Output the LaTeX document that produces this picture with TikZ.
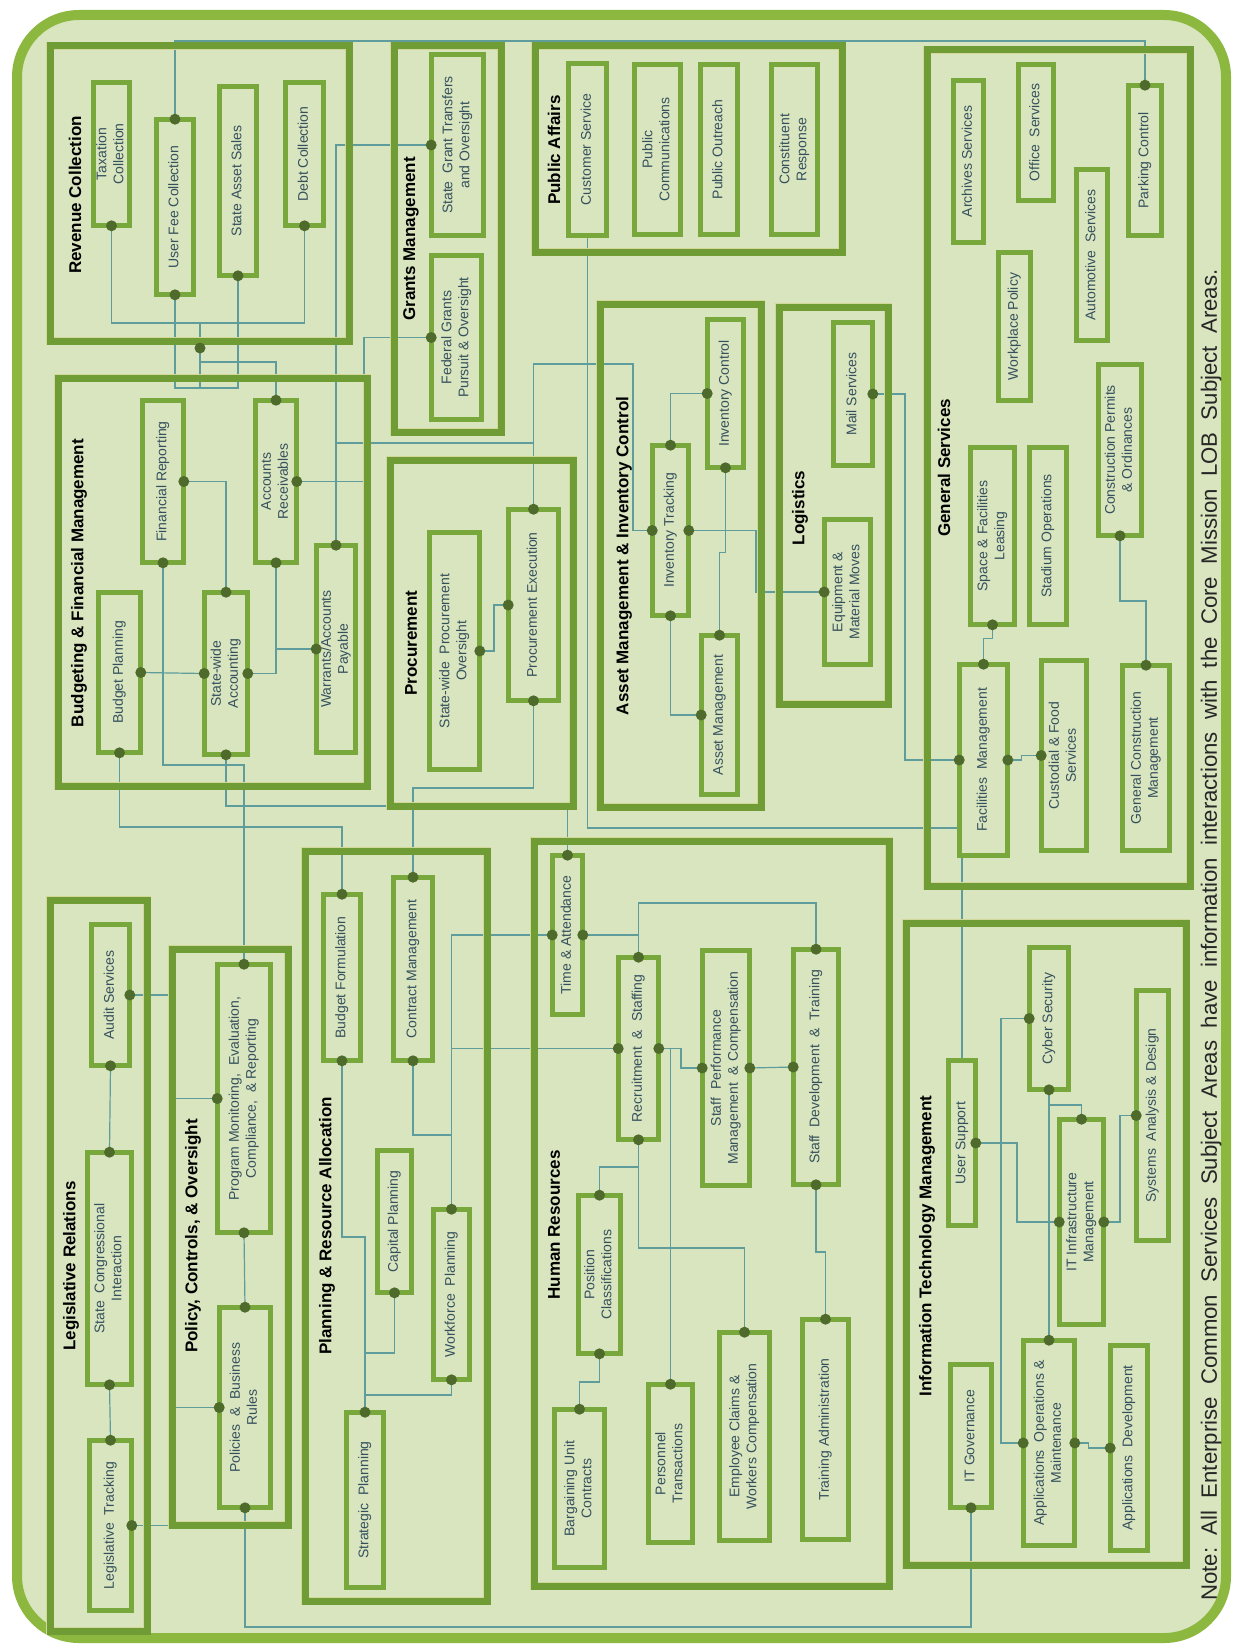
\documentclass[tikz,border=0pt]{standalone}
\usepackage{fontspec}
\setmainfont{Liberation Sans}
\usepackage{graphicx}
\definecolor{bgc}{HTML}{D9E5BF}
\definecolor{framec}{HTML}{8DB83F}
\definecolor{grpc}{HTML}{6F9C34}
\definecolor{boxc}{HTML}{78A83B}
\definecolor{edgec}{HTML}{D2D79A}
\definecolor{linec}{HTML}{5F9C9C}
\definecolor{dotc}{HTML}{4E6B2B}
\definecolor{txtc}{HTML}{34505C}
\pgfdeclarelayer{framelayer}
\pgfdeclarelayer{connlayer}
\pgfdeclarelayer{grplayer}
\pgfsetlayers{framelayer,connlayer,grplayer,main}
\tikzset{
  grp/.style={draw=edgec, line width=0.7pt, double=grpc, double distance=7pt},
  bx/.style={draw=edgec, line width=0.6pt, double=boxc, double distance=4.6pt, fill=bgc, inner sep=0pt, rectangle,
    font=\fontsize{14}{17}\selectfont, text=txtc},
  ttl/.style={rotate=90, font=\fontsize{17}{20}\selectfont\bfseries, text=black, inner sep=0pt},
  conn/.style={draw=linec, line width=1.2pt},
}
\newcommand\bx[6]{\node[bx, minimum width={#3-#2-5}, minimum height={#5-#4-5}] (#1) at ({(#2+#3)/2},{(#4+#5)/2}) {\rotatebox{90}{\begin{tabular}{@{}c@{}}#6\end{tabular}}};}
\begin{document}
\begin{tikzpicture}[x=1pt,y=-1pt]
\useasboundingbox (0,0) rectangle (1237,1648);
\begin{pgfonlayer}{framelayer}
\fill[white] (0,0) rectangle (1237,1648);
\draw[framec, line width=10pt, fill=bgc, rounded corners=62pt] (17,15) rectangle (1226,1638);
\end{pgfonlayer}

% ---------- groups
\begin{pgfonlayer}{grplayer}
\draw[grp] (50,46) rectangle (349,341);
\draw[grp] (394,46) rectangle (501,432);
\draw[grp] (535,46) rectangle (842,252);
\draw[grp] (927,50) rectangle (1190,886);
\draw[grp] (58,378) rectangle (367,786);
\draw[grp] (390,460) rectangle (573,806);
\draw[grp] (600,304) rectangle (761,807);
\draw[grp] (779,307) rectangle (888,704);
\draw[grp] (50,900) rectangle (147,1631);
\draw[grp] (172,949) rectangle (288,1525);
\draw[grp] (305,851) rectangle (487,1601);
\draw[grp] (534,841) rectangle (889,1586);
\draw[grp] (906,923) rectangle (1186,1565);
\end{pgfonlayer}

% ---------- titles
\node[ttl] (t-rev) at (75,195) {Revenue Collection};
\node[ttl] (t-gra) at (411,239) {Grants Management};
\node[ttl] (t-pub) at (554,150) {Public Affairs};
\node[ttl] (t-gs) at (944,468) {General Services};
\node[ttl] (t-bfm) at (79,583) {Budgeting \& Financial Management};
\node[ttl] (t-pro) at (411,643) {Procurement};
\node[ttl] (t-ami) at (624,556) {Asset Management \& Inventory Control};
\node[ttl] (t-log) at (800,508) {Logistics};
\node[ttl] (t-leg) at (71,1266) {Legislative Relations};
\node[ttl] (t-pco) at (193,1236) {Policy, Controls, \& Oversight};
\node[ttl] (t-pra) at (327,1226) {Planning \& Resource Allocation};
\node[ttl] (t-hr) at (554,1225) {Human Resources};
\node[ttl] (t-itm) at (927,1246) {Information Technology Management};
\node[rotate=90, font=\fontsize{22.2}{26}\selectfont, text=black!85, inner sep=0pt] (note) at (1211,935)
  {Note:\ \ All\ \ Enterprise\ \ Common\ \ Services\ \ Subject\ \ Areas\ \ have\ \ information\ \ interactions\ \ with\ \ the\ \ Core\ \ Mission\ \ LOB\ \ Subject\ \ Areas.};

% ---------- boxes
\bx{tax}{91}{132}{80}{228}{Taxation\\Collection}
\bx{ufc}{154}{196}{117}{297}{User Fee Collection}
\bx{sas}{217}{259}{84}{278}{State Asset Sales}
\bx{debt}{283}{326}{80}{228}{Debt Collection}
\bx{sgt}{429}{486}{52}{238}{State\ \ Grant Transfers\\and Oversight}
\bx{fg}{429}{484}{253}{422}{Federal Grants\\Pursuit \& Oversight}
\bx{cs}{566}{609}{61}{238}{Customer Service}
\bx{pc}{632}{683}{62}{237}{Public\\Communications}
\bx{po}{698}{740}{62}{237}{Public Outreach}
\bx{cr}{769}{820}{62}{237}{Constituent\\Response}
\bx{arch}{951}{986}{78}{245}{Archives Services}
\bx{off}{1016}{1056}{62}{203}{Office\ \ Services}
\bx{park}{1126}{1164}{83}{238}{Parking Control}
\bx{wp}{996}{1033}{250}{403}{Workplace Policy}
\bx{auto}{1074}{1110}{167}{343}{Automotive\ \ Services}
\bx{cpo}{1096}{1144}{362}{538}{Construction Permits\\\& Ordinances}
\bx{sfl}{968}{1017}{445}{627}{Space \& Facilities\\Leasing}
\bx{stad}{1027}{1069}{445}{627}{Stadium Operations}
\bx{fm}{957}{1010}{662}{858}{Facilities\ \ Management}
\bx{cfs}{1039}{1089}{658}{853}{Custodial \& Food\\Services}
\bx{gcm}{1120}{1172}{663}{853}{General Construction\\Management}
\bx{ms}{831}{875}{320}{468}{Mail Services}
\bx{emm}{822}{873}{517}{667}{Equipment \&\\Material Moves}
\bx{invt}{650}{691}{443}{618}{Inventory Tracking}
\bx{invc}{705}{746}{317}{470}{Inventory Control}
\bx{am}{699}{740}{633}{797}{Asset Management}
\bx{fr}{140}{186}{398}{565}{Financial Reporting}
\bx{ar}{253}{299}{398}{565}{Accounts\\Receivables}
\bx{bp}{96}{143}{590}{755}{Budget Planning}
\bx{swa}{202}{250}{590}{757}{State-wide\\Accounting}
\bx{wap}{314}{358}{543}{755}{Warrants/Accounts\\Payable}
\bx{spo}{427}{482}{530}{772}{State-wide\ \ Procurement\\Oversight}
\bx{pe}{506}{561}{507}{703}{Procurement Execution}
\bx{aud}{89}{132}{922}{1068}{Audit Services}
\bx{sci}{85}{134}{1150}{1387}{State\ \ Congressional\\Interaction}
\bx{lt}{87}{134}{1438}{1613}{Legislative\ \ Tracking}
\bx{pm}{215}{273}{962}{1235}{Program Monitoring,\ \ Evaluation,\\Compliance,\ \ \& Reporting}
\bx{pbr}{217}{273}{1305}{1510}{Policies\ \ \&\ \ Business\\Rules}
\bx{bf}{321}{363}{892}{1063}{Budget Formulation}
\bx{cm}{391}{435}{875}{1063}{Contract Management}
\bx{cp}{375}{414}{1148}{1295}{Capital Planning}
\bx{wfp}{431}{472}{1207}{1382}{Workforce\ \ Planning}
\bx{sp}{344}{386}{1410}{1590}{Strategic\ \ Planning}
\bx{ta}{550}{585}{853}{1017}{Time \& Attendance}
\bx{rs}{616}{661}{955}{1142}{Recruitment\ \ \&\ \ Staffing}
\bx{spmc}{700}{752}{948}{1188}{Staff\ \ Performance\\Management\ \ \& Compensation}
\bx{sdt}{791}{841}{947}{1187}{Staff\ \ Development\ \ \&\ \ Training}
\bx{pcl}{576}{623}{1193}{1356}{Position\\Classifications}
\bx{buc}{552}{607}{1407}{1570}{Bargaining Unit\\Contracts}
\bx{ptr}{646}{695}{1382}{1545}{Personnel\\Transactions}
\bx{ecwc}{717}{772}{1330}{1543}{Employee Claims \&\\Workers Compensation}
\bx{tad}{800}{851}{1317}{1542}{Training Administration}
\bx{us}{946}{978}{1058}{1228}{User Support}
\bx{cyb}{1027}{1071}{945}{1092}{Cyber Security}
\bx{sad}{1134}{1171}{988}{1243}{Systems\ \ Analysis \& Design}
\bx{itim}{1057}{1106}{1117}{1327}{IT Infrastructure\\Management}
\bx{itg}{948}{994}{1362}{1510}{IT Governance}
\bx{aom}{1021}{1077}{1338}{1548}{Applications\ \ Operations \&\\Maintenance}
\bx{ad}{1108}{1150}{1343}{1553}{Applications\ \ Development}

% ---------- connectors
\coordinate (revj) at (200,348);
\begin{pgfonlayer}{connlayer}
\draw[conn] (ufc.north) |- (1145,41) -- (park.north);
\draw[conn] (tax.south) |- (200,323) -| (debt.south);
\draw[conn] (200,323) -- (200,388);
\draw[conn] (ufc.south) |- (200,388) -| (sas.south);
\draw[conn] (200,362) -| (ar.north);
\draw[conn] (sgt.west) -| (wap.north);
\draw[conn] (336,443) -- (533.5,443);
\draw[conn] (pe.north) |- (633,364) |- (invt.west);
\draw[conn] (fg.west) -| (364,481.5) -- (ar.east);
\draw[conn] (fr.east) -| (swa.north);
\draw[conn] (bp.east) -- (swa.west);
\draw[conn] (swa.east) -| (276,649);
\draw[conn] (ar.south) |- (wap.west);
\draw[conn] (fr.south) |- (244,765) -- (pm.north);
\draw[conn] (swa.south) |- (567.5,806) -- (ta.north);
\draw[conn] (bp.south) |- (342,827) -- (bf.north);
\draw[conn] (pe.south) |- (413,788) -- (cm.north);
\draw[conn] (spo.east) -| (494,605) -- (pe.west);
\draw[conn] (cs.south) |- (959,828);
\draw[conn] (us.north) -- (us.north |- fm.south);
\draw[conn] (ms.east) -| (905,760) -- (fm.west);
\draw[conn] (sfl.south) -- ++(0,14) -| (fm.north);
\draw[conn] (fm.east) -- ++(14,0) |- (cfs.west);
\draw[conn] (cpo.south) |- (1146,601) -- (gcm.north);
\draw[conn] (invt.north) |- (invc.west);
\draw[conn] (invc.south) -- ++(0,85) -| (am.north);
\draw[conn] (invt.south) |- (am.west);
\draw[conn] (invt.east) -| (756,592) -- (emm.west);
\draw[conn] (aud.south) -- (sci.north);
\draw[conn] (sci.south) -- (lt.north);
\draw[conn] (aud.east) -| (174,1098.5) -- (pm.west);
\draw[conn] (lt.east) -| (174,1407.5) -- (pbr.west);
\draw[conn] (pm.south) -- (pbr.north);
\draw[conn] (pbr.south) |- (971,1627) -- (itg.south);
\draw[conn] (bf.south) |- (365,1237) -- (sp.north);
\draw[conn] (cp.south) |- (365,1353);
\draw[conn] (wfp.south) |- (365,1395);
\draw[conn] (cm.south) |- (451.5,1135) -- (wfp.north);
\draw[conn] (wfp.north) -- (451.5,935) -- (ta.west);
\draw[conn] (451.5,1048.5) -- (rs.west);
\draw[conn] (ta.east) -- (638.5,935);
\draw[conn] (rs.north) |- (816,903) -- (sdt.north);
\draw[conn] (rs.east) -| (681,1068) -- (spmc.west);
\draw[conn] (ptr.north) -- (ptr.north |- rs.east);
\draw[conn] (spmc.east) -- (sdt.west);
\draw[conn] (rs.south) |- (599.5,1167) -- (pcl.north);
\draw[conn] (rs.south) |- (744.5,1248) -- (ecwc.north);
\draw[conn] (pcl.south) |- (579.5,1382) -- (buc.north);
\draw[conn] (sdt.south) |- (825.5,1252) -- (tad.north);
\draw[conn] (cyb.west) -| (1001,1443) -- (aom.west);
\draw[conn] (us.east) -| (1017,1222) -- (itim.west);
\draw[conn] (cyb.south) -- (aom.north);
\draw[conn] (1049,1105) -| (itim.north);
\draw[conn] (itim.east) -| (1120,1115.5) -- (sad.west);
\draw[conn] (aom.east) -- ++(14,0) |- (ad.west);
\end{pgfonlayer}

% ---------- dots
\foreach \p in {ufc.north, park.north, tax.south, debt.south, ufc.south, sas.south, revj, ar.north,
  sgt.west, wap.north, fg.west, ar.east, pe.north, invt.west, fr.east, swa.north, bp.east, swa.west,
  swa.east, wap.west, ar.south, fr.south, pm.north, swa.south, ta.north, bp.south, bf.north,
  pe.south, cm.north, spo.east, pe.west, ms.east, fm.west, sfl.south, fm.north, fm.east, cfs.west,
  cpo.south, gcm.north, invt.north, invc.west, invc.south, am.north, invt.south, am.west,
  invt.east, emm.west, aud.south, sci.north, sci.south, lt.north, aud.east, pm.west, lt.east,
  pbr.west, pm.south, pbr.north, pbr.south, itg.south, bf.south, sp.north, cp.south, wfp.south,
  cm.south, wfp.north, ta.west, rs.west, ta.east, rs.north, sdt.north, rs.east, spmc.west,
  ptr.north, spmc.east, sdt.west, rs.south, pcl.north, ecwc.north, pcl.south, buc.north,
  sdt.south, tad.north, cyb.west, aom.west, us.east, itim.west, cyb.south, aom.north,
  itim.north, itim.east, sad.west, aom.east, ad.west}
  {\fill[dotc] (\p) circle (5.5pt);}
\end{tikzpicture}
\end{document}
